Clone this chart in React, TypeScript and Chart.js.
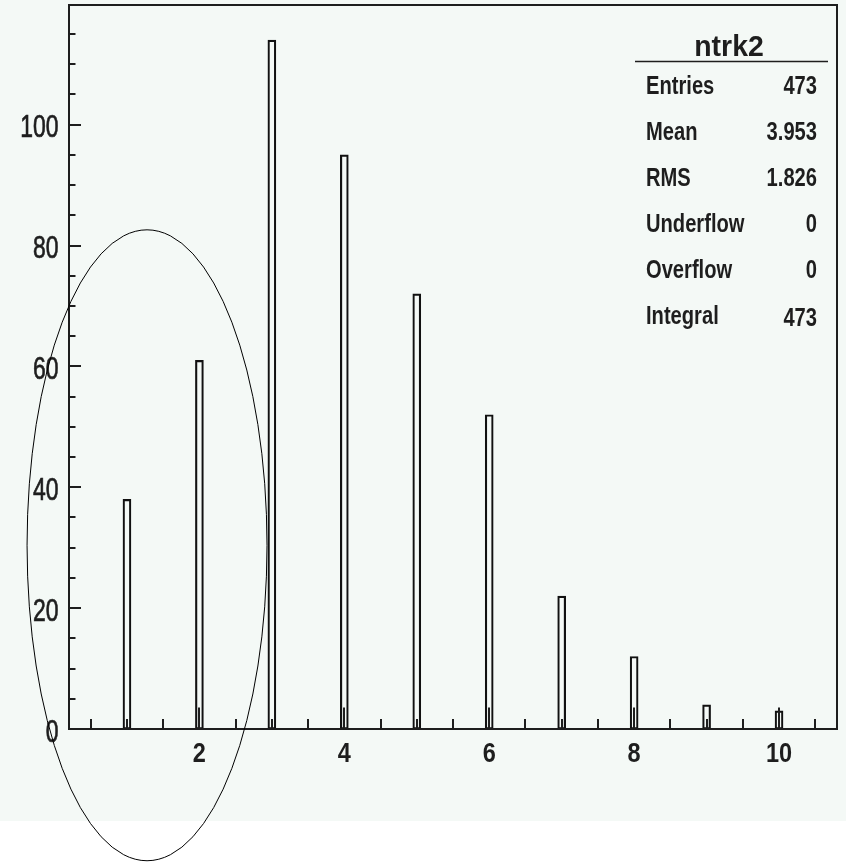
import React, { useEffect, useRef } from 'react';
import { Chart, registerables } from 'chart.js';

Chart.register(...registerables);

// ---- data ----
const binCenters = [1, 2, 3, 4, 5, 6, 7, 8, 9, 10];
const binCounts = [38, 61, 114, 95, 72, 52, 22, 12, 4, 3];
const xMajorTicks = [2, 4, 6, 8, 10];
const xTickLabels = ['2', '4', '6', '8', '10'];
const yMajorTicks = [0, 20, 40, 60, 80, 100];
const yTickLabels = ['0', '20', '40', '60', '80', '100'];
const xMinorStep = 0.5;
const yMinorStep = 5;
const xRange = [0.2, 10.8];
const yRange = [0, 119.8];
const statsTitle = 'ntrk2';
const statsLabels = ['Entries', 'Mean', 'RMS', 'Underflow', 'Overflow', 'Integral'];
const statsValues = ['473', '3.953', '1.826', '0', '0', '473'];
const ellipseCenter = [1.277, 30.4];
const ellipseRadii = [1.656, 52.2];

const BG = '#f4f9f6';
const INK = '#1e1e1e';

function drawText(
  ctx: CanvasRenderingContext2D,
  text: string,
  x: number,
  y: number,
  font: string,
  align: CanvasTextAlign,
  sx: number,
  baseline: CanvasTextBaseline = 'middle',
  heavy = 0
) {
  ctx.save();
  ctx.translate(x, y);
  ctx.scale(sx, 1);
  ctx.font = font;
  ctx.textAlign = align;
  ctx.textBaseline = baseline;
  ctx.fillStyle = INK;
  ctx.fillText(text, 0, 0);
  if (heavy > 0) {
    ctx.strokeStyle = INK;
    ctx.lineWidth = heavy;
    ctx.strokeText(text, 0, 0);
  }
  ctx.restore();
}

const rootDecor = {
  id: 'rootDecor',
  beforeDraw(chart: any) {
    const ctx = chart.ctx as CanvasRenderingContext2D;
    ctx.save();
    ctx.fillStyle = '#ffffff';
    ctx.fillRect(0, 0, chart.width, chart.height);
    ctx.fillStyle = BG;
    ctx.fillRect(0, 0, chart.width, 821);
    ctx.restore();
  },
  afterDatasetsDraw(chart: any) {
    const ctx = chart.ctx as CanvasRenderingContext2D;
    const area = chart.chartArea;
    const xs = chart.scales.x;
    const ys = chart.scales.y;
    ctx.save();
    ctx.strokeStyle = INK;
    ctx.lineWidth = 2;
    ctx.lineCap = 'butt';

    // y ticks (inside frame)
    for (let v = yRange[0]; v <= yRange[1] + 1e-9; v += yMinorStep) {
      const py = Math.round(ys.getPixelForValue(v));
      const major = yMajorTicks.includes(v);
      ctx.beginPath();
      ctx.moveTo(area.left, py);
      ctx.lineTo(area.left + (major ? 12 : 6.5), py);
      ctx.stroke();
    }
    // x ticks
    for (let k = 1; k * xMinorStep < xRange[1]; k++) {
      const v = k * xMinorStep;
      if (v <= xRange[0]) continue;
      const px = Math.round(xs.getPixelForValue(v));
      const major = xMajorTicks.includes(v);
      ctx.beginPath();
      ctx.moveTo(px, area.bottom);
      ctx.lineTo(px, area.bottom - (major ? 21.5 : 10));
      ctx.stroke();
    }
    // frame
    ctx.strokeRect(area.left, area.top, area.right - area.left, area.bottom - area.top);

    // y labels
    yMajorTicks.forEach((v, i) => {
      const py = ys.getPixelForValue(v);
      drawText(ctx, yTickLabels[i], 58.5, py + 4, '31px "Liberation Sans", Arial, sans-serif', 'right', 0.74, 'middle', 0.7);
    });
    // x labels
    xMajorTicks.forEach((v, i) => {
      const px = xs.getPixelForValue(v);
      drawText(ctx, xTickLabels[i], px, 754, 'bold 28px "Liberation Sans", Arial, sans-serif', 'center', 0.84);
    });

    // stats box
    drawText(ctx, statsTitle, 729, 56, 'bold 29px "Liberation Sans", Arial, sans-serif', 'center', 0.98, 'alphabetic');
    ctx.lineWidth = 1.6;
    ctx.beginPath();
    ctx.moveTo(635, 61.5);
    ctx.lineTo(828, 61.5);
    ctx.stroke();
    statsLabels.forEach((lab, i) => {
      const y = 86 + i * 46;
      drawText(ctx, lab, 646, y + 1, 'bold 25.5px "Liberation Sans", Arial, sans-serif', 'left', 0.79);
      drawText(ctx, statsValues[i], 817, y + (i === 5 ? 3 : 1), 'bold 25.5px "Liberation Sans", Arial, sans-serif', 'right', 0.79);
    });

    // ellipse annotation
    const cx = xs.getPixelForValue(ellipseCenter[0]);
    const cy = ys.getPixelForValue(ellipseCenter[1]);
    const rx = xs.getPixelForValue(ellipseCenter[0] + ellipseRadii[0]) - cx;
    const ry = cy - ys.getPixelForValue(ellipseCenter[1] + ellipseRadii[1]);
    ctx.lineWidth = 1;
    ctx.strokeStyle = '#000';
    ctx.beginPath();
    ctx.ellipse(cx, cy, rx, ry, 0, 0, Math.PI * 2);
    ctx.stroke();
    ctx.restore();
  },
};

export default function App() {
  const ref = useRef<HTMLCanvasElement | null>(null);
  useEffect(() => {
    if (!ref.current) return;
    const chart = new Chart(ref.current, {
      type: 'bar',
      data: {
        datasets: [
          {
            data: binCenters.map((b, i) => ({ x: b, y: binCounts[i] })),
            backgroundColor: 'rgba(0,0,0,0)',
            borderColor: '#111',
            borderWidth: 1.5,
            borderSkipped: false,
            barThickness: 8,
          },
        ],
      },
      options: {
        responsive: false,
        animation: false,
        layout: { padding: { left: 69, top: 5, right: 9, bottom: 133 } },
        scales: {
          x: { type: 'linear', min: xRange[0], max: xRange[1], offset: false, display: false },
          y: { type: 'linear', min: yRange[0], max: yRange[1], display: false },
        },
        plugins: { legend: { display: false }, tooltip: { enabled: false } },
      },
      plugins: [rootDecor],
    } as any);
    return () => chart.destroy();
  }, []);
  return (
    <div style={{ position: 'absolute', left: 0, top: 0, width: 846, height: 862 }}>
      <canvas ref={ref} width={846} height={862} />
    </div>
  );
}
